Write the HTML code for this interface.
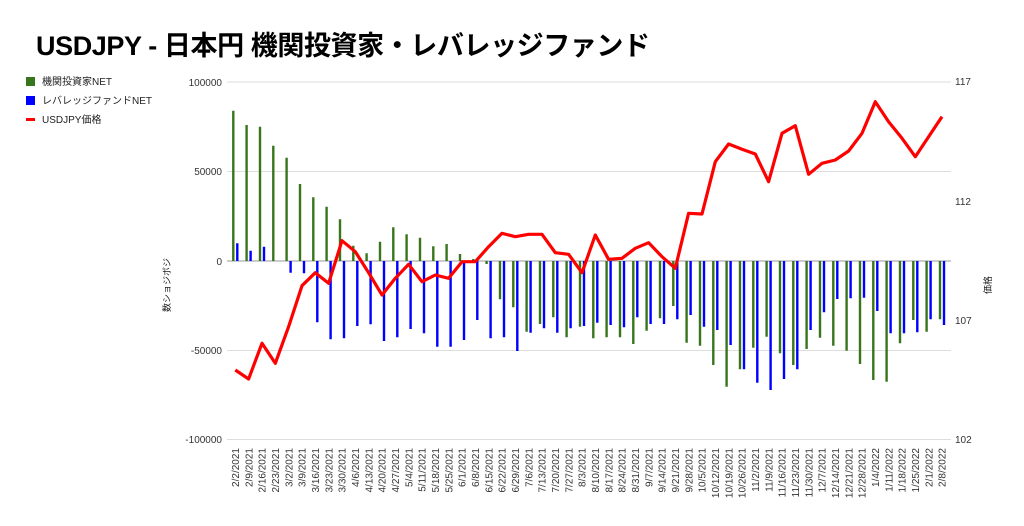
<!DOCTYPE html>
<html><head><meta charset="utf-8"><style>
body{margin:0;background:#fff;width:1024px;height:521px;overflow:hidden}
svg{font-family:"Liberation Sans","Noto Sans CJK JP",sans-serif}
</style></head><body>
<svg width="1024" height="521" xmlns="http://www.w3.org/2000/svg">
<text x="36" y="55" font-size="27" font-weight="bold" fill="#000" textLength="614" lengthAdjust="spacing">USDJPY - 日本円 機関投資家・レバレッジファンド</text>
<rect x="26" y="77" width="9" height="9" fill="#38761d"/>
<text x="42" y="85" font-size="10" fill="#222">機関投資家NET</text>
<rect x="26" y="96" width="9" height="9" fill="#0000ff"/>
<text x="42" y="104" font-size="10" fill="#222">レバレッジファンドNET</text>
<rect x="26" y="118" width="9" height="3" fill="#ff0000"/>
<text x="42" y="123" font-size="10" fill="#222">USDJPY価格</text>
<g stroke="#ddd" stroke-width="1">
<line x1="227" y1="82" x2="951" y2="82"/><line x1="227" y1="171.5" x2="951" y2="171.5"/>
<line x1="227" y1="350.5" x2="951" y2="350.5"/><line x1="227" y1="439.5" x2="951" y2="439.5"/>
</g>
<line x1="227" y1="261" x2="951" y2="261" stroke="#999" stroke-width="1"/>
<g font-size="10" fill="#333" text-anchor="end">
<text x="222" y="86">100000</text><text x="222" y="175">50000</text><text x="222" y="265">0</text>
<text x="222" y="354">-50000</text><text x="222" y="443">-100000</text>
</g>
<g font-size="10" fill="#333">
<text x="955" y="85">117</text><text x="955" y="205">112</text><text x="955" y="324">107</text><text x="955" y="443">102</text>
</g>
<text transform="translate(170,285) rotate(-90)" font-size="9" fill="#222" text-anchor="middle">数ショジボジ</text>
<text transform="translate(991,285) rotate(-90)" font-size="9" fill="#222" text-anchor="middle">価格</text>
<g stroke-width="2.4">
<g stroke="#38761d">
<path d="M233.3 261V110.7M246.6 261V125M260 261V126.7M273.3 261V145.7M286.6 261V157.7M300 261V184M313.3 261V197.3M326.6 261V206.7M340 261V219.3M353.3 261V245.7M366.6 261V253.3M380 261V241.7M393.3 261V227.3M406.6 261V234.3M420 261V237.7M433.3 261V246.3M446.6 261V244M460 261V254M473.3 261V259M486.6 261V264M500 261V299.3M513.3 261V307.3M526.6 261V331.7M540 261V324M553.3 261V317.3M566.6 261V337.3M580 261V326.7M593.3 261V338.3M606.6 261V337.3M620 261V337.3M633.3 261V344M646.6 261V330.7M660 261V318.3M673.3 261V306M686.6 261V342.7M700 261V345.7M713.3 261V365M726.6 261V386.7M740 261V369.3M753.3 261V347.7M766.6 261V336.7M780 261V353.3M793.3 261V365M806.6 261V349M820 261V337.7M833.3 261V345.7M846.6 261V350.7M860 261V364M873.3 261V380M886.6 261V381.7M900 261V343.3M913.3 261V320M926.6 261V331.7M940 261V319.3"/>
</g>
<g stroke="#0000ff">
<path d="M237.3 261V243.3M250.6 261V250.7M264 261V246.7M290.6 261V272.7M304 261V273.3M317.3 261V322.3M330.6 261V339.3M344 261V338.3M357.3 261V326M370.6 261V324.3M384 261V341M397.3 261V337.3M410.6 261V329M424 261V333.3M437.3 261V346.7M450.6 261V346.7M464 261V340M477.3 261V320M490.6 261V338.3M504 261V337.3M517.3 261V351M530.6 261V332.7M544 261V328.3M557.3 261V332.7M570.6 261V328.3M584 261V326M597.3 261V322.7M610.6 261V325M624 261V327.3M637.3 261V317.3M650.6 261V324M664 261V324M677.3 261V319.3M690.6 261V315M704 261V326.7M717.3 261V330M730.6 261V345M744 261V369.3M757.3 261V382.7M770.6 261V390M784 261V379M797.3 261V369.3M810.6 261V330M824 261V312.3M837.3 261V299M850.6 261V298.3M864 261V297.7M877.3 261V311M890.6 261V333.3M904 261V333.3M917.3 261V332.3M930.6 261V319.3M944 261V325"/>
</g>
</g>
<polyline fill="none" stroke="#ff0000" stroke-width="3.2" stroke-linejoin="round" points="235.3,370 248.6,379 262,343.3 275.3,363.3 288.6,326.7 302,285.7 315.3,272.7 328.6,283.3 342,240.7 355.3,251.7 368.6,272.7 382,295 395.3,278.3 408.6,264.3 422,281.7 435.3,275 448.6,278.3 462,261.7 475.3,261.7 488.6,246.7 502,233.3 515.3,236.7 528.6,234.3 542,234.3 555.3,252.7 568.6,254.3 582,272.7 595.3,235 608.6,259.3 622,258.3 635.3,248.3 648.6,242.7 662,256.7 675.3,268.3 688.6,213.3 702,214 715.3,161.7 728.6,144 742,149.3 755.3,154 768.6,181.7 782,133.3 795.3,125.7 808.6,174.3 822,163.3 835.3,160 848.6,151 862,133.3 875.3,101.7 888.6,121.7 902,138.3 915.3,156.7 928.6,136.7 942,116.7"/>
<g font-size="10" fill="#333" text-anchor="end">
<text transform="translate(239,448) rotate(-90)">2/2/2021</text>
<text transform="translate(252.3,448) rotate(-90)">2/9/2021</text>
<text transform="translate(265.7,448) rotate(-90)">2/16/2021</text>
<text transform="translate(279,448) rotate(-90)">2/23/2021</text>
<text transform="translate(292.3,448) rotate(-90)">3/2/2021</text>
<text transform="translate(305.7,448) rotate(-90)">3/9/2021</text>
<text transform="translate(319,448) rotate(-90)">3/16/2021</text>
<text transform="translate(332.3,448) rotate(-90)">3/23/2021</text>
<text transform="translate(345.7,448) rotate(-90)">3/30/2021</text>
<text transform="translate(359,448) rotate(-90)">4/6/2021</text>
<text transform="translate(372.3,448) rotate(-90)">4/13/2021</text>
<text transform="translate(385.7,448) rotate(-90)">4/20/2021</text>
<text transform="translate(399,448) rotate(-90)">4/27/2021</text>
<text transform="translate(412.3,448) rotate(-90)">5/4/2021</text>
<text transform="translate(425.7,448) rotate(-90)">5/11/2021</text>
<text transform="translate(439,448) rotate(-90)">5/18/2021</text>
<text transform="translate(452.3,448) rotate(-90)">5/25/2021</text>
<text transform="translate(465.7,448) rotate(-90)">6/1/2021</text>
<text transform="translate(479,448) rotate(-90)">6/8/2021</text>
<text transform="translate(492.3,448) rotate(-90)">6/15/2021</text>
<text transform="translate(505.7,448) rotate(-90)">6/22/2021</text>
<text transform="translate(519,448) rotate(-90)">6/29/2021</text>
<text transform="translate(532.3,448) rotate(-90)">7/6/2021</text>
<text transform="translate(545.7,448) rotate(-90)">7/13/2021</text>
<text transform="translate(559,448) rotate(-90)">7/20/2021</text>
<text transform="translate(572.3,448) rotate(-90)">7/27/2021</text>
<text transform="translate(585.7,448) rotate(-90)">8/3/2021</text>
<text transform="translate(599,448) rotate(-90)">8/10/2021</text>
<text transform="translate(612.3,448) rotate(-90)">8/17/2021</text>
<text transform="translate(625.7,448) rotate(-90)">8/24/2021</text>
<text transform="translate(639,448) rotate(-90)">8/31/2021</text>
<text transform="translate(652.3,448) rotate(-90)">9/7/2021</text>
<text transform="translate(665.7,448) rotate(-90)">9/14/2021</text>
<text transform="translate(679,448) rotate(-90)">9/21/2021</text>
<text transform="translate(692.3,448) rotate(-90)">9/28/2021</text>
<text transform="translate(705.7,448) rotate(-90)">10/5/2021</text>
<text transform="translate(719,448) rotate(-90)">10/12/2021</text>
<text transform="translate(732.3,448) rotate(-90)">10/19/2021</text>
<text transform="translate(745.7,448) rotate(-90)">10/26/2021</text>
<text transform="translate(759,448) rotate(-90)">11/2/2021</text>
<text transform="translate(772.3,448) rotate(-90)">11/9/2021</text>
<text transform="translate(785.7,448) rotate(-90)">11/16/2021</text>
<text transform="translate(799,448) rotate(-90)">11/23/2021</text>
<text transform="translate(812.3,448) rotate(-90)">11/30/2021</text>
<text transform="translate(825.7,448) rotate(-90)">12/7/2021</text>
<text transform="translate(839,448) rotate(-90)">12/14/2021</text>
<text transform="translate(852.3,448) rotate(-90)">12/21/2021</text>
<text transform="translate(865.7,448) rotate(-90)">12/28/2021</text>
<text transform="translate(879,448) rotate(-90)">1/4/2022</text>
<text transform="translate(892.3,448) rotate(-90)">1/11/2022</text>
<text transform="translate(905.7,448) rotate(-90)">1/18/2022</text>
<text transform="translate(919,448) rotate(-90)">1/25/2022</text>
<text transform="translate(932.3,448) rotate(-90)">2/1/2022</text>
<text transform="translate(945.7,448) rotate(-90)">2/8/2022</text>
</g>
</svg>
</body></html>
